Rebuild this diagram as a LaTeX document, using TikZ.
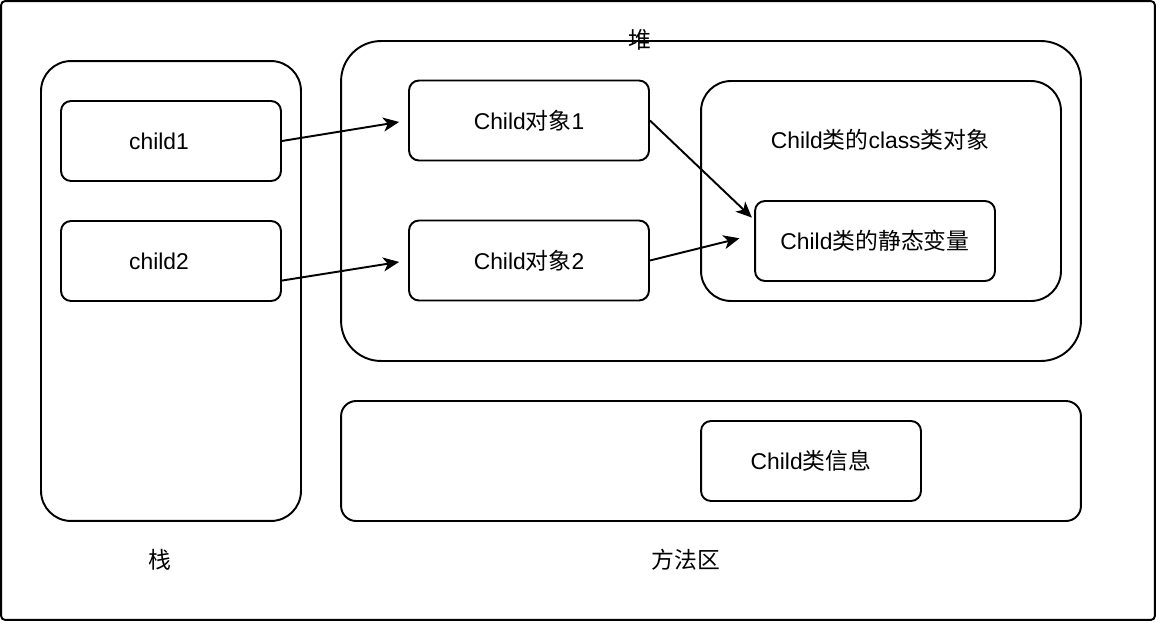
\documentclass[tikz,border=0pt]{standalone}
\usepackage{fontspec}
\setmainfont{Liberation Sans}
\newfontfamily\cjk{Noto Sans CJK SC}
\usetikzlibrary{arrows.meta}

\tikzset{
    box/.style={draw=black,line width=1.1pt,rounded corners=0.2cm,minimum width=4.4cm,minimum height=1.6cm},
    area/.style={draw=black,line width=1.1pt},
    link/.style={line width=1.1pt,-{Stealth[length=0.32cm,width=0.28cm,inset=0.09cm]}}
}

\begin{document}
\begin{tikzpicture}[x=0.02cm,y=-0.02cm]
    \fontsize{13}{15}\selectfont
    \useasboundingbox (0,0) rectangle (1158,622);

    % Place the areas
    \node[area,rounded corners=0.08cm,minimum width=23.08cm,minimum height=12.38cm] (frame) at (578,310.5) {};
    \node[area,rounded corners=0.6cm,minimum width=5.2cm,minimum height=9.2cm] (stack) at (171,291) {};
    \node[area,rounded corners=0.8cm,minimum width=14.8cm,minimum height=6.4cm] (heap) at (711,201) {};
    \node[area,rounded corners=0.6cm,minimum width=7.2cm,minimum height=4.4cm] (classobj) at (881,191) {};
    \node[area,rounded corners=0.3cm,minimum width=14.8cm,minimum height=2.4cm] (method) at (711,461) {};

    % Place the nodes
    \node[box] (child1) at (171,141) {child1\hspace*{0.48cm}};
    \node[box] (child2) at (171,261) {child2\hspace*{0.48cm}};
    \node[box,minimum width=4.8cm] (obj1) at (529,120.5) {Child{\cjk 对象}1};
    \node[box,minimum width=4.8cm] (obj2) at (529,260.5) {Child{\cjk 对象}2};
    \node[box,minimum width=4.8cm] (static) at (875,241) {Child{\cjk 类的静态变量}};
    \node[box] (classinfo) at (811,461) {Child{\cjk 类信息}};

    % The labels
    \node (heaplbl) at (640,40) {\cjk 堆};
    \node (stacklbl) at (160,560) {\cjk 栈};
    \node (methodlbl) at (686,560) {\cjk 方法区};
    \node (classlbl) at (880,140) {Child{\cjk 类的}class{\cjk 类对象}};

    % Draw the arrows
    \draw[link,shorten >=0.18cm] (child1.east) -- (obj1.west);
    \draw[link,shorten >=0.18cm] (child2.-10) -- (obj2.west);
    \draw[link,shorten >=0.06cm] (obj1.east) -- (static.170);
    \draw[link,shorten >=0.3cm] (obj2.east) -- (static.177);

\end{tikzpicture}
\end{document}
